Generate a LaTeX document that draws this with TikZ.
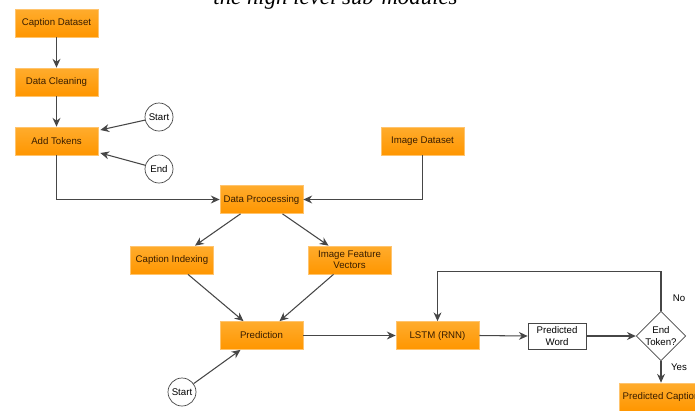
\documentclass[tikz,border=0pt]{standalone}
\usepackage{fontspec}
\setmainfont{Liberation Sans}
\newfontfamily\capfont{Liberation Serif}
\usetikzlibrary{arrows.meta,calc,shapes.geometric}
\definecolor{boxorange}{RGB}{255,150,0}
\definecolor{boxtop}{RGB}{255,172,45}
\definecolor{boxedge}{RGB}{255,196,110}
\definecolor{boxtext}{RGB}{55,28,0}
\definecolor{linegray}{RGB}{70,70,70}
\tikzset{
  procbox/.style={rectangle, draw=boxedge, top color=boxtop, bottom color=boxorange,
    minimum width=1.66cm, minimum height=0.56cm, inner sep=0pt, align=center,
    text=boxtext, font=\fontsize{5.5}{6.5}\selectfont},
  wordbox/.style={rectangle, draw=linegray, fill=white, minimum width=1.16cm,
    minimum height=0.52cm, inner sep=0pt, align=center, font=\fontsize{5.5}{6.5}\selectfont},
  termcircle/.style={circle, draw=linegray, fill=white, minimum size=0.56cm, inner sep=0pt,
    font=\fontsize{5.5}{6.5}\selectfont},
  decbox/.style={diamond, draw=linegray, fill=white, minimum width=0.98cm, minimum height=0.9cm,
    inner sep=0pt, align=center, font=\fontsize{5.5}{6.5}\selectfont},
  flowline/.style={draw=linegray, line width=0.6pt, -{Stealth[length=5pt,width=4.5pt]}},
  edgelabel/.style={inner sep=0pt, font=\fontsize{5.5}{6.5}\selectfont}
}
\begin{document}
\begin{tikzpicture}[x=0.02cm,y=-0.02cm]
    \clip (0,0) rectangle (695,410);
    \fill [ white ] (0,0) rectangle (695,410);

    % cut-off caption at the top
    \node (cap) [ anchor=base, inner sep=0pt, font=\capfont\itshape\fontsize{13}{15}\selectfont ] at (335.5,4.5) {the high level sub-modules};

    % caption branch
    \node (cd) [ procbox ] at (56.5,23) {Caption Dataset};
    \node (dc) [ procbox ] at (56.5,82) {Data Cleaning};
    \node (at) [ procbox ] at (56.5,141) {Add Tokens};
    \node (st) [ termcircle ] at (159,117) {Start};
    \node (en) [ termcircle ] at (159,169) {End};

    % image branch
    \node (id) [ procbox ] at (422.5,141) {Image Dataset};

    \node (dp) [ procbox ] at (261.5,199.5) {Data Prcocessing};
    \node (ci) [ procbox ] at (172,260) {Caption Indexing};
    \node (ifv) [ procbox ] at (349.5,260) {Image Feature\\Vectors};
    \node (pred) [ procbox ] at (261.5,335.5) {Prediction};
    \node (st2) [ termcircle ] at (182,392) {Start};

    % generation loop
    \node (lstm) [ procbox ] at (437.5,335.5) {LSTM (RNN)};
    \node (pw) [ wordbox ] at (557,336) {Predicted\\Word};
    \node (dec) [ decbox ] at (661,336) {End\\Token?};
    \node (pc) [ procbox ] at (661,397) {Predicted Caption};
    \node (no) [ edgelabel ] at (679,298) {No};
    \node (yes) [ edgelabel ] at (679,367) {Yes};

    \draw [ flowline ] (cd) -- (dc);
    \draw [ flowline ] (dc) -- (at);
    \draw [ flowline ] (st) -- ($(at.east)+(2,-11)$);
    \draw [ flowline ] (en) -- ($(at.east)+(2,12)$);
    \draw [ flowline ] (at.south) |- (dp.west);
    \draw [ flowline ] (id.south) |- (dp.east);

    \draw [ flowline ] ($(dp.south)+(-21,0)$) -- ($(ci.north)+(23,0)$);
    \draw [ flowline ] ($(dp.south)+(21,0)$) -- ($(ifv.north)+(-21,0)$);
    \draw [ flowline ] ($(ci.south)+(16,0)$) -- ($(pred.north)+(-18,0)$);
    \draw [ flowline ] ($(ifv.south)+(-16,0)$) -- ($(pred.north)+(18,0)$);
    \draw [ flowline ] (st2) -- ($(pred.south)+(-21,0)$);

    \draw [ flowline ] (pred.east) -- (lstm.west);
    \draw [ flowline ] (lstm.east) -- (pw.west);
    \draw [ flowline ] (pw.east) -- (dec.west);
    \draw [ flowline ] (dec.north) -- ++(0,-39) -| (lstm.north);
    \draw [ flowline ] (dec.south) -- (pc.north);
\end{tikzpicture}
\end{document}
